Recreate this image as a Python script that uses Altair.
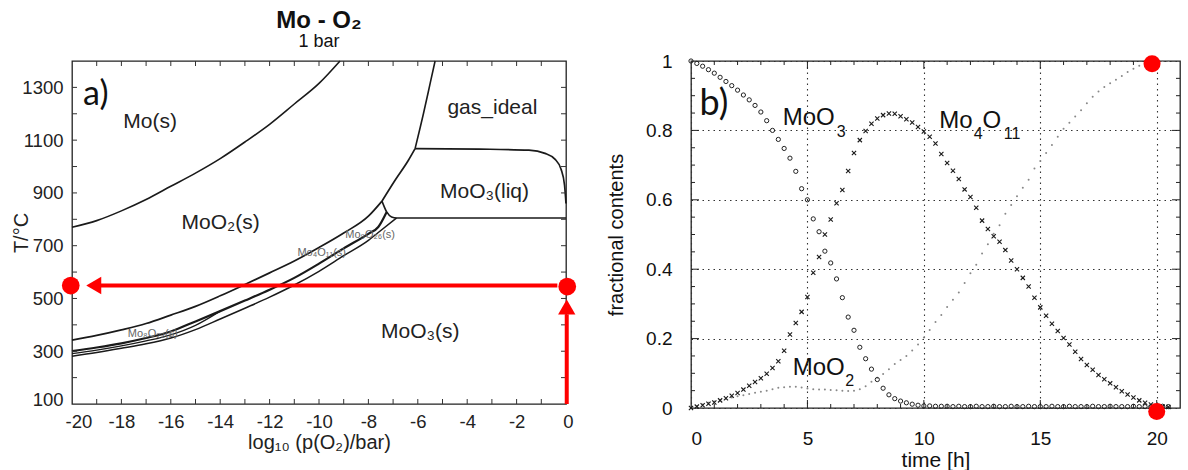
import altair as alt
import pandas as pd

# ---------------- panel a) : Mo - O2 predominance diagram ----------------
mo_moo2_x = [-20, -19, -18, -17, -16, -15, -14, -13, -12, -11, -10, -9.15]
mo_moo2_T = [770, 795, 832, 875, 925, 975, 1030, 1093, 1160, 1237, 1315, 1400]

moo2_upper_x = [-20, -19, -18, -17, -16, -15, -14, -13, -12, -11, -10, -9, -8, -7.45]
moo2_upper_T = [342, 360, 381, 405, 437, 470, 510, 553, 597, 642, 693, 748, 812, 869]

moo2_liq_x = [-7.45, -6.92, -6.38, -6.11]
moo2_liq_T = [869, 948, 1024, 1068]

gas_x = [-6.11, -5.77, -5.5, -5.3]
gas_T = [1068, 1201, 1315, 1400]

liq_gas_x = [-6.11, -3.5, -1.5, -0.85, -0.45, -0.2, -0.06, 0.0]
liq_gas_T = [1068, 1066, 1062, 1050, 1028, 990, 930, 860]

solid_liq_x = [-7.45, -7.26, -7.06, -6.86, 0.0]
solid_liq_T = [869, 828, 809, 805, 805]

band_upper_x = [-20, -19, -18, -17, -16, -15, -14, -13, -12, -11, -10, -9, -8, -7.6, -7.26]
band_upper_T = [300, 314, 330, 350, 375, 413, 452, 492, 533, 578, 632, 690, 745, 771, 828]

band_mid_x = [-20, -19, -18, -17, -16, -15, -14]
band_mid_T = [291, 304, 320, 339, 362, 398, 452]

band_lower_x = [-20, -19, -18, -17, -16, -15, -14, -13, -12, -11, -10, -9, -8, -7.6, -6.86]
band_lower_T = [281, 295, 311, 328, 350, 382, 422, 463, 505, 551, 603, 662, 720, 750, 805]

a_region_labels = ["Mo(s)", "gas_ideal", "MoO₃(liq)", "MoO₂(s)", "MoO₃(s)"]
a_region_x = [-16.84, -2.98, -3.3, -13.98, -5.9]
a_region_T = [1145, 1198, 882, 765, 350]

a_small_labels = ["Mo₉O₂₆(s)", "Mo₄O₁₁(s)", "Mo₈O₂₃(s)"]
a_small_x = [-7.93, -9.89, -16.73]
a_small_T = [728, 661, 355]

a_xtick_labels = [-20, -18, -16, -14, -12, -10, -8, -6, -4, -2, 0]
a_ytick_labels = [100, 300, 500, 700, 900, 1100, 1300]
a_xminor = [-19, -18, -17, -16, -15, -14, -13, -12, -11, -10, -9, -8, -7, -6, -5, -4, -3, -2, -1]
a_yminor = [200, 300, 400, 500, 600, 700, 800, 900, 1000, 1100, 1200, 1300]

# red annotation (arrow from pO2 = 1 bar down to 10^-20 bar at ~550 °C)
red_dot_x = [-20.05, 0.05]
red_dot_T = [549, 545]
red_line_x = [-18.85, 0.03]
red_line_x2 = [-0.35, 0.03]
red_line_T = [549, 100]
red_line_T2 = [549, 440]
red_head_x = [-19.12, 0.03]
red_head_T = [549, 468]
red_head_shape = ["triangle-left", "triangle-up"]

# ---------------- panel b) : fractional contents vs time ----------------
time_h = [0, 0.25, 0.5, 0.75, 1, 1.25, 1.5, 1.75,
          2, 2.25, 2.5, 2.75, 3, 3.25, 3.5, 3.75,
          4, 4.25, 4.5, 4.75, 5, 5.25, 5.5, 5.75,
          6, 6.25, 6.5, 6.75, 7, 7.25, 7.5, 7.75,
          8, 8.25, 8.5, 8.75, 9, 9.25, 9.5, 9.75,
          10, 10.25, 10.5, 10.75, 11, 11.25, 11.5, 11.75,
          12, 12.25, 12.5, 12.75, 13, 13.25, 13.5, 13.75,
          14, 14.25, 14.5, 14.75, 15, 15.25, 15.5, 15.75,
          16, 16.25, 16.5, 16.75, 17, 17.25, 17.5, 17.75,
          18, 18.25, 18.5, 18.75, 19, 19.25, 19.5, 19.75,
          20, 20.25, 20.5]

moo3_frac = [1.000, 0.993, 0.985, 0.975, 0.965, 0.953, 0.941, 0.929,
             0.916, 0.902, 0.888, 0.872, 0.853, 0.828, 0.800, 0.774,
             0.748, 0.720, 0.682, 0.632, 0.600, 0.545, 0.508, 0.452,
             0.418, 0.372, 0.318, 0.262, 0.224, 0.175, 0.142, 0.112,
             0.082, 0.057, 0.038, 0.027, 0.020, 0.015, 0.011, 0.008,
             0.006, 0.006, 0.005, 0.005, 0.005, 0.004, 0.005, 0.004,
             0.004, 0.005, 0.004, 0.004, 0.005, 0.004, 0.004, 0.005,
             0.004, 0.004, 0.005, 0.004, 0.004, 0.004, 0.005, 0.004,
             0.004, 0.005, 0.004, 0.004, 0.004, 0.005, 0.004, 0.004,
             0.005, 0.004, 0.004, 0.004, 0.005, 0.004, 0.004, 0.004,
             0.004, 0.005, 0.004]

mo4o11_frac = [0.000, 0.004, 0.008, 0.012, 0.016, 0.022, 0.028, 0.035,
               0.043, 0.053, 0.064, 0.075, 0.086, 0.099, 0.115, 0.135,
               0.165, 0.212, 0.245, 0.277, 0.320, 0.390, 0.435, 0.500,
               0.543, 0.590, 0.628, 0.683, 0.735, 0.772, 0.798, 0.819,
               0.834, 0.844, 0.849, 0.848, 0.841, 0.832, 0.823, 0.810,
               0.797, 0.782, 0.762, 0.732, 0.706, 0.684, 0.660, 0.630,
               0.608, 0.577, 0.540, 0.516, 0.495, 0.479, 0.455, 0.425,
               0.400, 0.375, 0.350, 0.318, 0.290, 0.266, 0.243, 0.222,
               0.202, 0.183, 0.162, 0.141, 0.124, 0.110, 0.095, 0.083,
               0.071, 0.060, 0.048, 0.039, 0.030, 0.022, 0.015, 0.010,
               0.006, 0.004, 0.003]

moo2_frac = [0.000, 0.005, 0.010, 0.015, 0.019, 0.023, 0.027, 0.030,
             0.034, 0.037, 0.040, 0.044, 0.047, 0.050, 0.054, 0.058,
             0.060, 0.061, 0.061, 0.059, 0.056, 0.054, 0.053, 0.053,
             0.052, 0.051, 0.050, 0.049, 0.050, 0.054, 0.063, 0.076,
             0.087, 0.098, 0.112, 0.127, 0.138, 0.150, 0.166, 0.183,
             0.203, 0.225, 0.248, 0.268, 0.291, 0.312, 0.333, 0.360,
             0.388, 0.413, 0.445, 0.472, 0.502, 0.527, 0.560, 0.585,
             0.610, 0.635, 0.658, 0.690, 0.712, 0.735, 0.758, 0.782,
             0.805, 0.822, 0.840, 0.858, 0.878, 0.897, 0.912, 0.925,
             0.936, 0.946, 0.957, 0.968, 0.978, 0.986, 0.992, 0.996,
             0.999, 1.000, 1.000]

b_xtick_labels = [0, 5, 10, 15, 20]
b_ytick_labels = [0, 0.2, 0.4, 0.6, 0.8, 1]
b_x_major = [5, 10, 15, 20]
b_x_minor = [1, 2, 3, 4, 6, 7, 8, 9, 11, 12, 13, 14, 16, 17, 18, 19]
b_y_major = [0.2, 0.4, 0.6, 0.8]
b_y_minor = [0.05, 0.1, 0.15, 0.25, 0.3, 0.35, 0.45, 0.5, 0.55, 0.65, 0.7, 0.75, 0.85, 0.9, 0.95]

b_labels = ["MoO", "3", "Mo", "4", "O", "11", "MoO", "2"]
b_label_t = [3.94, 6.26, 10.66, 12.14, 12.52, 13.43, 4.37, 6.62]
b_label_f = [0.816, 0.782, 0.807, 0.774, 0.807, 0.774, 0.095, 0.063]
b_label_fs = [24, 16, 24, 16, 24, 16, 24, 16]

b_red_t = [19.8, 20.0]
b_red_f = [0.992, -0.01]

# ---------------- styling constants ----------------
W1, H1 = 494, 343
W2, H2 = 489, 347
FONT = "Liberation Sans"
RED = "#ff0000"
INK = "#1a1a1a"

# ================= panel a =================
xs1 = alt.Scale(domain=[-20, 0], nice=False, zero=False)
ys1 = alt.Scale(domain=[100, 1400], nice=False, zero=False)
ax1x = alt.Axis(values=a_xtick_labels, labelExpr="'' + datum.value", title="log₁₀ (p(O₂)/bar)",
                ticks=False, tickSize=0, domain=False, grid=False, labelFontSize=18.5,
                labelPadding=8, labelFlush=True, labelFlushOffset=7, titleFontSize=20,
                titleY=44.5, titleBaseline="alphabetic", labelColor="#222", titleColor="#222")
ax1y = alt.Axis(values=a_ytick_labels, labelExpr="'' + datum.value", title="T/°C",
                ticks=False, tickSize=0, domain=False, grid=False, labelFontSize=18.5,
                labelPadding=9, labelFlush=True, labelFlushOffset=5, titleFontSize=20,
                titleX=-51, titleBaseline="middle", labelColor="#222", titleColor="#222")


def X1(f="x"):
    return alt.X(f"{f}:Q", scale=xs1, axis=ax1x)


def Y1(f="y"):
    return alt.Y(f"{f}:Q", scale=ys1, axis=ax1y)


seg_defs = [
    ("mo_moo2", mo_moo2_x, mo_moo2_T, 1.6),
    ("moo2_upper", moo2_upper_x, moo2_upper_T, 1.7),
    ("moo2_liq", moo2_liq_x, moo2_liq_T, 1.7),
    ("gas", gas_x, gas_T, 1.6),
    ("liq_gas", liq_gas_x, liq_gas_T, 1.7),
    ("solid_liq", solid_liq_x, solid_liq_T, 1.6),
    ("band_upper", band_upper_x, band_upper_T, 2.2),
    ("band_mid", band_mid_x, band_mid_T, 1.2),
    ("band_lower", band_lower_x, band_lower_T, 1.5),
]
rows = []
for name, xv, tv, w in seg_defs:
    for i, (a, b) in enumerate(zip(xv, tv)):
        rows.append({"seg": name, "i": i, "x": a, "y": b, "w": w})
lines_df = pd.DataFrame(rows)

a_lines = alt.Chart(lines_df).mark_line(color=INK, interpolate="monotone").encode(
    x=X1(), y=Y1(), detail="seg:N", order="i:Q",
    strokeWidth=alt.StrokeWidth("w:Q", scale=None))

a_xt = pd.DataFrame({"x": a_xminor})
a_yt = pd.DataFrame({"y": a_yminor})
a_ticks = [
    alt.Chart(a_xt).mark_rule(color="#333", strokeWidth=1).encode(x=X1(), y=alt.value(H1), y2=alt.value(H1 - 5)),
    alt.Chart(a_xt).mark_rule(color="#333", strokeWidth=1).encode(x=X1(), y=alt.value(0), y2=alt.value(5)),
    alt.Chart(a_yt).mark_rule(color="#333", strokeWidth=1).encode(y=Y1(), x=alt.value(0), x2=alt.value(5)),
    alt.Chart(a_yt).mark_rule(color="#333", strokeWidth=1).encode(y=Y1(), x=alt.value(W1 - 5), x2=alt.value(W1)),
]

reg_df = pd.DataFrame({"x": a_region_x, "y": a_region_T, "t": a_region_labels})
a_regions = alt.Chart(reg_df).mark_text(font=FONT, fontSize=21, color="#222", align="center",
                                        baseline="alphabetic").encode(x=X1(), y=Y1(), text="t:N")
small_df = pd.DataFrame({"x": a_small_x, "y": a_small_T, "t": a_small_labels})
a_small = alt.Chart(small_df).mark_text(font=FONT, fontSize=11, color="#666", align="center",
                                        baseline="alphabetic").encode(x=X1(), y=Y1(), text="t:N")
a_letter = alt.Chart(pd.DataFrame({"x": [-19.55], "y": [1233], "t": ["a)"]})).mark_text(
    font="Lato", fontSize=34, color="#111", align="left", baseline="alphabetic").encode(
    x=X1(), y=Y1(), text="t:N")

red_lines_df = pd.DataFrame({"x": red_line_x, "x2": red_line_x2, "y": red_line_T, "y2": red_line_T2})
a_red_lines = alt.Chart(red_lines_df).mark_rule(color=RED, strokeWidth=4).encode(
    x=X1(), x2="x2:Q", y=Y1(), y2="y2:Q")
a_red_heads = alt.Chart(pd.DataFrame({"x": red_head_x, "y": red_head_T, "s": red_head_shape})).mark_point(
    filled=True, color=RED, size=300, opacity=1).encode(
    x=X1(), y=Y1(), shape=alt.Shape("s:N", scale=None))
a_red_dots = alt.Chart(pd.DataFrame({"x": red_dot_x, "y": red_dot_T})).mark_circle(
    color=RED, size=314, opacity=1).encode(x=X1(), y=Y1())

panel_a = alt.layer(a_lines, *a_ticks, a_regions, a_small, a_letter, a_red_lines, a_red_heads,
                    a_red_dots).properties(
    width=W1, height=H1,
    title=alt.TitleParams(text="Mo - O₂", subtitle="1 bar", fontSize=24, fontWeight="bold",
                          font=FONT, subtitleFont=FONT, subtitleFontSize=18, subtitlePadding=0,
                          offset=7, anchor="middle", color="#111", subtitleColor="#111"))

# ================= panel b =================
xs2 = alt.Scale(domain=[0, 21], nice=False, zero=False)
ys2 = alt.Scale(domain=[0, 1], nice=False, zero=False)
ax2x = alt.Axis(values=b_xtick_labels, labelExpr="'' + datum.value", title="time [h]",
                ticks=False, tickSize=0, domain=False, grid=True, gridDash=[1.5, 4],
                gridColor="#333", gridWidth=1.1, labelFontSize=19, labelPadding=21.5,
                titleFontSize=21, titleY=58.5, titleBaseline="alphabetic",
                labelColor="#111", titleColor="#111")
ax2y = alt.Axis(values=b_ytick_labels, labelExpr="'' + datum.value", title="fractional contents",
                ticks=False, tickSize=0, domain=False, grid=True, gridDash=[1.5, 4],
                gridColor="#333", gridWidth=1.1, labelFontSize=19, labelPadding=19,
                titleFontSize=20, titleX=-74.3, titleBaseline="middle",
                labelColor="#111", titleColor="#111")


def X2(f="x"):
    return alt.X(f"{f}:Q", scale=xs2, axis=ax2x)


def Y2(f="y"):
    return alt.Y(f"{f}:Q", scale=ys2, axis=ax2y)


series_df = pd.DataFrame({"x": time_h, "moo3": moo3_frac, "mo4o11": mo4o11_frac, "moo2": moo2_frac})

b_moo2 = alt.Chart(series_df).mark_point(shape="circle", filled=True, size=4, color="#888",
                                        opacity=1).encode(x=X2(), y=Y2("moo2"))
b_moo3 = alt.Chart(series_df).mark_point(shape="circle", filled=False, size=18, color="#222",
                                        strokeWidth=1.0, opacity=1).encode(x=X2(), y=Y2("moo3"))
b_mo4o11 = alt.Chart(series_df).mark_point(shape="M-1,-1L1,1M1,-1L-1,1", filled=False, size=18,
                                          color="#1a1a1a", strokeWidth=1.1, opacity=1).encode(
    x=X2(), y=Y2("mo4o11"))

bxM = pd.DataFrame({"x": b_x_major})
bxm = pd.DataFrame({"x": b_x_minor})
byM = pd.DataFrame({"y": b_y_major})
bym = pd.DataFrame({"y": b_y_minor})
b_ticks = []
for df, ln in [(bxM, 8), (bxm, 4)]:
    b_ticks.append(alt.Chart(df).mark_rule(color="#222", strokeWidth=1).encode(
        x=X2(), y=alt.value(H2), y2=alt.value(H2 - ln)))
    b_ticks.append(alt.Chart(df).mark_rule(color="#222", strokeWidth=1).encode(
        x=X2(), y=alt.value(0), y2=alt.value(ln)))
for df, ln in [(byM, 8), (bym, 4)]:
    b_ticks.append(alt.Chart(df).mark_rule(color="#222", strokeWidth=1).encode(
        y=Y2(), x=alt.value(0), x2=alt.value(ln)))
    b_ticks.append(alt.Chart(df).mark_rule(color="#222", strokeWidth=1).encode(
        y=Y2(), x=alt.value(W2 - ln), x2=alt.value(W2)))

blab_df = pd.DataFrame({"x": b_label_t, "y": b_label_f, "t": b_labels, "fs": b_label_fs})
b_text = alt.Chart(blab_df).mark_text(font=FONT, color="#111", align="left",
                                      baseline="alphabetic").encode(
    x=X2(), y=Y2(), text="t:N", size=alt.Size("fs:Q", scale=None))
b_letter = alt.Chart(pd.DataFrame({"x": [0.37], "y": [0.844], "t": ["b)"]})).mark_text(
    font="Lato", fontSize=36, color="#111", align="left", baseline="alphabetic").encode(
    x=X2(), y=Y2(), text="t:N")
b_red = alt.Chart(pd.DataFrame({"x": b_red_t, "y": b_red_f})).mark_circle(
    color=RED, size=290, opacity=1).encode(x=X2(), y=Y2())

panel_b = alt.layer(b_moo2, b_moo3, b_mo4o11, *b_ticks, b_text, b_letter, b_red).properties(
    width=W2, height=H2)

chart = alt.hconcat(panel_a, panel_b, spacing=29).properties(
    padding={"left": 10, "top": 8, "right": 4, "bottom": 0},
    background="white",
).configure_view(stroke="#222", strokeWidth=1.3).configure_axis(
    labelFont=FONT, titleFont=FONT, titleFontWeight="normal")

chart.save("out.html", embed_options={"renderer": "svg", "actions": False})
